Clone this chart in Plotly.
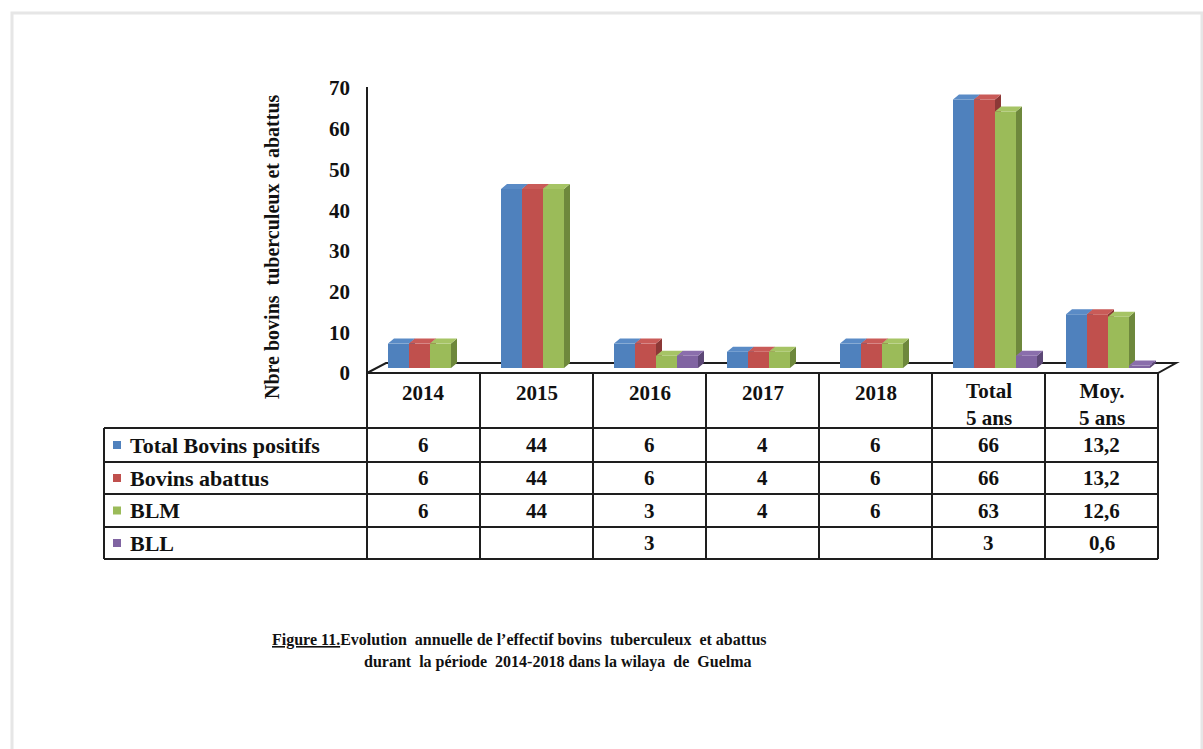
import plotly.graph_objects as go

# ---- data -------------------------------------------------------------
categories = ["2014", "2015", "2016", "2017", "2018", "Total<br>5 ans", "Moy.<br>5 ans"]
total_bovins_positifs = [6, 44, 6, 4, 6, 66, 13.2]
bovins_abattus = [6, 44, 6, 4, 6, 66, 13.2]
blm = [6, 44, 3, 4, 6, 63, 12.6]
bll = [None, None, 3, None, None, 3, 0.6]

series_names = ["Total Bovins positifs", "Bovins abattus", "BLM", "BLL"]
series_values = [total_bovins_positifs, bovins_abattus, blm, bll]
y_ticks = [0, 10, 20, 30, 40, 50, 60, 70]

front_colors = ["#4F81BD", "#C0504D", "#9BBB59", "#8064A2"]
top_colors = ["#5A8BC6", "#C95B58", "#A6C465", "#8A6EAC"]
side_colors = ["#385D8A", "#8C3836", "#6E883C", "#5C4776"]

# ---- geometry (pixels) ------------------------------------------------
W, H = 1203, 749
PL, PR, PT, PB = 355, 1185, 75, 385      # plot area
COL0, COLW = 367, 113                    # left edge of first column, column width
Y0, YU = 368, 4.07                       # pixel of value 0, pixels per unit
BAR_OFFSETS_PX = [-35.5, -14.5, 6.5, 27.5]
BAR_W_PX = 21
DEPTH_X, DEPTH_Y = 6 / COLW, 5 / YU      # 3-D depth of each bar in data units

x_range = [(PL - COL0) / COLW - 0.5, (PR - COL0) / COLW - 0.5]
y_range = [(Y0 - PB) / YU, (Y0 - PT) / YU]


def px(xpix):
    return (xpix - PL) / (PR - PL)


def py(ypix):
    return (PB - ypix) / (PB - PT)


TXT = "#111111"
LINE = "#1e1e1e"
SERIF = "Liberation Serif, Times New Roman, serif"
table_font = dict(family=SERIF, size=21, color=TXT, weight="bold")
legend_font = dict(family=SERIF, size=22, color=TXT, weight="bold")

fig = go.Figure()

# ---- bars: one overlaid subplot per series so faces stack correctly ----
xpos = list(range(len(categories)))
bar_w = BAR_W_PX / COLW
for s, (name, vals) in enumerate(zip(series_names, series_values)):
    xa = "x" if s == 0 else f"x{s + 1}"
    ya = "y" if s == 0 else f"y{s + 1}"
    off = BAR_OFFSETS_PX[s] / COLW
    fig.add_trace(go.Bar(
        x=xpos, y=vals, base=0, width=bar_w, offset=off,
        marker=dict(color=front_colors[s], line=dict(width=0)),
        name=name, showlegend=False, xaxis=xa, yaxis=ya,
    ))
    side_x, side_y, top_x, top_y = [], [], [], []
    for i, v in enumerate(vals):
        if v is None:
            continue
        x0 = i + off
        x1 = x0 + bar_w
        side_x += [x1, x1, x1 + DEPTH_X, x1 + DEPTH_X, x1, None]
        side_y += [0, v, v + DEPTH_Y, DEPTH_Y, 0, None]
        top_x += [x0, x1, x1 + DEPTH_X, x0 + DEPTH_X, x0, None]
        top_y += [v, v, v + DEPTH_Y, v + DEPTH_Y, v, None]
    fig.add_trace(go.Scatter(
        x=side_x, y=side_y, mode="lines", fill="toself",
        fillcolor=side_colors[s], line=dict(width=0, color=side_colors[s]),
        showlegend=False, hoverinfo="skip", xaxis=xa, yaxis=ya,
    ))
    fig.add_trace(go.Scatter(
        x=top_x, y=top_y, mode="lines", fill="toself",
        fillcolor=top_colors[s], line=dict(width=0, color=top_colors[s]),
        showlegend=False, hoverinfo="skip", xaxis=xa, yaxis=ya,
    ))

shapes = []
annotations = []

# ---- floor and value axis line ----------------------------------------
shapes.append(dict(
    type="path", xref="paper", yref="paper", layer="below",
    path=(f"M {px(COL0)},{py(373)} L {px(COL0 + 19)},{py(363)} "
          f"L {px(COL0 + len(categories) * COLW + 18)},{py(363)} "
          f"L {px(COL0 + len(categories) * COLW)},{py(373)} Z"),
    fillcolor="white", line=dict(color=LINE, width=2),
))
shapes.append(dict(type="line", xref="paper", yref="paper",
                   x0=px(COL0), x1=px(COL0), y0=py(87), y1=py(373),
                   line=dict(color=LINE, width=2)))

# ---- data table -------------------------------------------------------
TABLE_TOP, HEADER_BOTTOM = 373, 428
row_lines = [428, 462, 494, 527, 559]
LEGEND_LEFT = 104
right_edge = COL0 + len(categories) * COLW

shapes.append(dict(type="line", xref="paper", yref="paper",
                   x0=px(COL0), x1=px(right_edge), y0=py(TABLE_TOP), y1=py(TABLE_TOP),
                   line=dict(color=LINE, width=2)))
for r in row_lines:
    shapes.append(dict(type="line", xref="paper", yref="paper",
                       x0=px(LEGEND_LEFT), x1=px(right_edge), y0=py(r), y1=py(r),
                       line=dict(color=LINE, width=2)))
for k in range(len(categories) + 1):
    xc = COL0 + k * COLW
    shapes.append(dict(type="line", xref="paper", yref="paper",
                       x0=px(xc), x1=px(xc), y0=py(TABLE_TOP), y1=py(row_lines[-1]),
                       line=dict(color=LINE, width=2)))
shapes.append(dict(type="line", xref="paper", yref="paper",
                   x0=px(LEGEND_LEFT), x1=px(LEGEND_LEFT),
                   y0=py(HEADER_BOTTOM), y1=py(row_lines[-1]),
                   line=dict(color=LINE, width=2)))

# header row
for i, cat in enumerate(categories):
    n_lines = cat.count("<br>") + 1
    annotations.append(dict(
        xref="paper", yref="paper", x=px(COL0 + (i + 0.5) * COLW),
        y=py(393 + (n_lines - 1) * 11), text=cat, showarrow=False,
        xanchor="center", yanchor="middle", font=table_font,
    ))


def fmt(v):
    if v is None:
        return ""
    if float(v).is_integer():
        return str(int(v))
    return f"{v:.1f}".replace(".", ",")


for s, (name, vals) in enumerate(zip(series_names, series_values)):
    top, bottom = row_lines[s], row_lines[s + 1]
    yc = (top + bottom) / 2
    shapes.append(dict(type="rect", xref="paper", yref="paper",
                       x0=px(113), x1=px(121), y0=py(yc - 4), y1=py(yc + 4),
                       fillcolor=front_colors[s], line=dict(width=0)))
    annotations.append(dict(
        xref="paper", yref="paper", x=px(128), y=py(yc), text=name,
        showarrow=False, xanchor="left", yanchor="middle", font=legend_font,
    ))
    for i, v in enumerate(vals):
        annotations.append(dict(
            xref="paper", yref="paper", x=px(COL0 + (i + 0.5) * COLW), y=py(yc),
            text=fmt(v), showarrow=False, xanchor="center", yanchor="middle",
            font=table_font,
        ))

# ---- value axis title -------------------------------------------------
annotations.append(dict(
    xref="paper", yref="paper", x=px(272), y=py(247),
    text="Nbre bovins\u00a0 tuberculeux et abattus", textangle=-90,
    showarrow=False, xanchor="center", yanchor="middle",
    font=dict(family=SERIF, size=20, color=TXT, weight="bold"),
))

# ---- caption ----------------------------------------------------------
cap_font = dict(family=SERIF, size=16, color=TXT, weight="bold")
annotations.append(dict(
    xref="paper", yref="paper", x=px(270), y=py(640), xanchor="left", yanchor="middle",
    text=('<span style="text-decoration:underline">Figure 11.</span>'
          "Evolution\u00a0 annuelle de l\u2019effectif bovins\u00a0 tuberculeux\u00a0 et abattus"),
    showarrow=False, font=cap_font,
))
annotations.append(dict(
    xref="paper", yref="paper", x=px(362), y=py(662), xanchor="left", yanchor="middle",
    text="durant\u00a0 la p\u00e9riode\u00a0 2014-2018 dans la wilaya\u00a0 de\u00a0 Guelma",
    showarrow=False, font=cap_font,
))

# ---- outer page frame -------------------------------------------------
shapes.append(dict(type="path", xref="paper", yref="paper", layer="below",
                   path=f"M {px(12)},{py(H + 10)} L {px(12)},{py(13)} L {px(1202)},{py(13)} L {px(1202)},{py(H + 10)}",
                   line=dict(color="#e6e6e6", width=3)))

# ---- axes -------------------------------------------------------------
axis_hidden = dict(visible=False, showgrid=False, zeroline=False, fixedrange=True)
layout = dict(
    width=W, height=H,
    margin=dict(l=PL, r=W - PR, t=PT, b=H - PB, pad=0),
    paper_bgcolor="white", plot_bgcolor="rgba(0,0,0,0)",
    barmode="overlay", showlegend=False,
    shapes=shapes, annotations=annotations,
    xaxis=dict(range=x_range, **axis_hidden),
    yaxis=dict(range=y_range, tickvals=y_ticks, ticktext=[str(t) for t in y_ticks],
               showgrid=False, zeroline=False, showline=False, ticks="",
               ticklabelshift=5, ticklabelstandoff=4,
               tickfont=dict(family=SERIF, size=21, color=TXT, weight="bold")),
)
for s in range(1, len(series_names)):
    layout[f"xaxis{s + 1}"] = dict(range=x_range, overlaying="x", matches="x", **axis_hidden)
    layout[f"yaxis{s + 1}"] = dict(range=y_range, overlaying="y", matches="y", **axis_hidden)

fig.update_layout(**layout)
fig.write_html("out.html")
